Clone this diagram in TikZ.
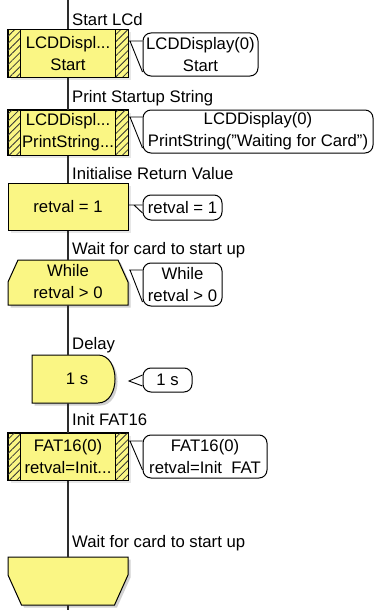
\documentclass[tikz,border=0pt]{standalone}
\usepackage{fontspec}
\setmainfont{Liberation Sans}
\usetikzlibrary{patterns.meta,calc,shadows}
\definecolor{fcyellow}{RGB}{250,246,132}
\definecolor{fcline}{RGB}{45,45,45}
\begin{document}
\begin{tikzpicture}[x=1pt,y=-1pt,
  every node/.style={font=\fontsize{16.7}{22}\selectfont},
  fcbox/.style={draw=black,line width=1pt,fill=fcyellow,inner sep=0pt,align=center,
    minimum width=120pt,drop shadow={shadow xshift=2.5pt,shadow yshift=-2.5pt,fill=black!18}},
  bubble/.style={draw=black,line width=1pt,fill=white,rounded corners=8pt,inner sep=0pt,align=center},
  hatch/.style={pattern={Lines[angle=45,distance=5pt,line width=0.8pt]},pattern color=black!80},
  lbl/.style={anchor=west,inner sep=0pt},
  tail/.style={line width=0.9pt},
  flow/.style={line width=1.4pt,draw=fcline},
  shade/.style={fill=black!18},
  shapeline/.style={draw=black,line width=1pt,fill=fcyellow}
]
\useasboundingbox (0,0) rectangle (374,610);
\fill[white] (0,0) rectangle (374,610);

% ---------- labels ----------
\node[lbl] (l1) at (72,20) {Start LCd};
\node[lbl] (l2) at (72,98) {Print Startup String};
\node[lbl] (l3) at (72,174) {Initialise Return Value};
\node[lbl] (l4) at (72,250) {Wait for card to start up};
\node[lbl] (l5) at (72,345) {Delay};
\node[lbl] (l6) at (72,420) {Init FAT16};
\node[lbl] (l7) at (72,543) {Wait for card to start up};

% ---------- call boxes ----------
\node[fcbox,minimum height=47pt] (b1) at (68,53.5) {LCDDispl...\\Start};
\fill[hatch] (b1.north west) rectangle ($(b1.south west)+(13,0)$);
\fill[hatch] ($(b1.north east)+(-13,0)$) rectangle (b1.south east);
\draw[line width=1pt] ($(b1.north west)+(13,0)$) -- ($(b1.south west)+(13,0)$)
  ($(b1.north east)+(-13,0)$) -- ($(b1.south east)+(-13,0)$);
\draw[line width=1pt] (b1.north west) rectangle (b1.south east);

\node[fcbox,minimum height=45pt] (b2) at (68,132.5) {LCDDispl...\\PrintString...};
\fill[hatch] (b2.north west) rectangle ($(b2.south west)+(13,0)$);
\fill[hatch] ($(b2.north east)+(-13,0)$) rectangle (b2.south east);
\draw[line width=1pt] ($(b2.north west)+(13,0)$) -- ($(b2.south west)+(13,0)$)
  ($(b2.north east)+(-13,0)$) -- ($(b2.south east)+(-13,0)$);
\draw[line width=1pt] (b2.north west) rectangle (b2.south east);

% ---------- calculation box ----------
\node[fcbox,minimum height=47pt] (b3) at (68,206.5) {retval = 1};

% ---------- while (loop top) ----------
\fill[shade,shift={(2.5,2.5)}] (18,260) -- (118,260) -- (128,282) -- (128,305) -- (8,305) -- (8,282) -- cycle;
\path[shapeline] (18,260) -- (118,260) -- (128,282) -- (128,305) -- (8,305) -- (8,282) -- cycle;
\node[align=center,inner sep=0pt] (w1) at (68,282) {While\\retval > 0};
\coordinate (w1top) at (68,260);
\coordinate (w1bot) at (68,305);

% ---------- delay ----------
\fill[shade,shift={(2.5,2.5)}] (32,355) -- (98,355) .. controls (120.7,355) and (120.7,403) .. (98,403) -- (32,403) -- cycle;
\path[shapeline] (32,355) -- (98,355) .. controls (120.7,355) and (120.7,403) .. (98,403) -- (32,403) -- cycle;
\node[inner sep=0pt] (d1) at (77,379) {1 s};
\coordinate (d1top) at (68,355);
\coordinate (d1bot) at (68,403);

% ---------- FAT16 call ----------
\node[fcbox,minimum height=47pt] (b6) at (68,456.5) {FAT16(0)\\retval=Init...};
\fill[hatch] (b6.north west) rectangle ($(b6.south west)+(13,0)$);
\fill[hatch] ($(b6.north east)+(-13,0)$) rectangle (b6.south east);
\draw[line width=1pt] ($(b6.north west)+(13,0)$) -- ($(b6.south west)+(13,0)$)
  ($(b6.north east)+(-13,0)$) -- ($(b6.south east)+(-13,0)$);
\draw[line width=1pt] (b6.north west) rectangle (b6.south east);

% ---------- while (loop bottom) ----------
\fill[shade,shift={(2.5,2.5)}] (8,557) -- (128,557) -- (128,575) -- (114.5,605) -- (21.5,605) -- (8,575) -- cycle;
\path[shapeline] (8,557) -- (128,557) -- (128,575) -- (114.5,605) -- (21.5,605) -- (8,575) -- cycle;
\coordinate (w2top) at (68,557);
\coordinate (w2bot) at (68,605);

% ---------- flow line ----------
\coordinate (top) at (68,0);
\coordinate (bot) at (68,610);
\draw[flow] (top) -- (b1.north);
\draw[flow] (b1.south) -- (b2.north);
\draw[flow] (b2.south) -- (b3.north);
\draw[flow] (b3.south) -- (w1top);
\draw[flow] (w1bot) -- (d1top);
\draw[flow] (d1bot) -- (b6.north);
\draw[flow] (b6.south) -- (w2top);
\draw[flow] (w2bot) -- (bot);

% ---------- comment bubbles ----------
\node[bubble,minimum width=115pt,minimum height=43pt] (c1) at (200.5,54.5) {LCDDisplay(0)\\Start};
\node[bubble,minimum width=230pt,minimum height=43pt] (c2) at (258,131.5) {LCDDisplay(0)\\PrintString("Waiting for Card")};
\node[bubble,minimum width=79pt,minimum height=25pt] (c3) at (182.5,207.5) {retval = 1};
\node[bubble,minimum width=79pt,minimum height=43pt] (c4) at (182.5,284.5) {While\\retval > 0};
\node[bubble,minimum width=49pt,minimum height=24pt] (c5) at (167.5,380) {1 s};
\node[bubble,minimum width=124pt,minimum height=43pt] (c6) at (205,456.5) {FAT16(0)\\retval=Init\ \ FAT};

% ---------- bubble tails ----------
\draw[tail] (b1.east |- 0,41) -- (c1.west |- 0,41) (130,41) -- (c1.west |- 0,72);
\draw[tail] (b2.east |- 0,117) -- (c2.west |- 0,117) (130,117) -- (c2.west |- 0,148);
\draw[tail] (b3.east |- 0,205) -- (c3.west |- 0,205) (134,205) -- (c3.west |- 0,213);
\draw[tail] (w1.east -| 128,0) ++(1,-12) -- (c4.west |- 0,270) (130,270) -- (c4.west |- 0,302);
\draw[tail] (c5.west |- 0,375) -- (129,381) -- (c5.west |- 0,386);
\draw[tail] (b6.east |- 0,441) -- (c6.west |- 0,441) (130,441) -- (c6.west |- 0,470);
\end{tikzpicture}
\end{document}
